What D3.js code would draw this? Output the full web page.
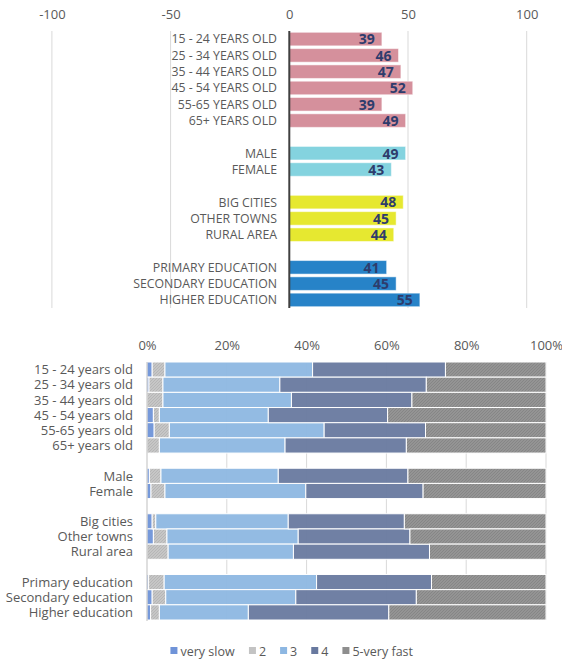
<!DOCTYPE html>
<html>
<head>
<meta charset="utf-8">
<script src="https://cdn.jsdelivr.net/npm/d3@7/dist/d3.min.js"></script>
<style>
  html, body { margin: 0; padding: 0; background: #fff; }
  svg { display: block; font-family: "Open Sans", Lato, sans-serif; }
</style>
</head>
<body>
<svg id="chart" width="562" height="660"></svg>
<script>
// ---- Top chart: score per group ----
const ageGroups = ["15 - 24 YEARS OLD", "25 - 34 YEARS OLD", "35 - 44 YEARS OLD", "45 - 54 YEARS OLD", "55-65 YEARS OLD", "65+ YEARS OLD"];
const ageScores = [39, 46, 47, 52, 39, 49];
const genderGroups = ["MALE", "FEMALE"];
const genderScores = [49, 43];
const placeGroups = ["BIG CITIES", "OTHER TOWNS", "RURAL AREA"];
const placeScores = [48, 45, 44];
const eduGroups = ["PRIMARY EDUCATION", "SECONDARY EDUCATION", "HIGHER EDUCATION"];
const eduScores = [41, 45, 55];
const topTicks = [-100, -50, 0, 50, 100];

// ---- Bottom chart: share of answers per group (%) ----
const bottomGroups = [
  ["15 - 24 years old", "25 - 34 years old", "35 - 44 years old", "45 - 54 years old", "55-65 years old", "65+ years old"],
  ["Male", "Female"],
  ["Big cities", "Other towns", "Rural area"],
  ["Primary education", "Secondary education", "Higher education"]
];
const answerKeys = ["very slow", "2", "3", "4", "5-very fast"];
const verySlow = [1.3, 0.5, 0.0, 1.6, 1.8, 0.0,   0.6, 1.0,   1.3, 1.6, 0.0,   0.4, 1.3, 0.9];
const answer2  = [3.2, 3.5, 4.0, 1.5, 3.8, 3.1,   2.9, 3.5,   0.9, 3.4, 5.3,   3.9, 3.4, 2.2];
const answer3  = [37.0, 29.3, 32.2, 27.3, 38.8, 31.5,   29.4, 35.3,   33.2, 32.9, 31.4,   38.2, 32.6, 22.3];
const answer4  = [33.3, 36.7, 30.2, 29.9, 25.4, 30.4,   32.5, 29.4,   29.1, 28.0, 34.1,   28.8, 30.2, 35.2];
const veryFast = [25.2, 30.0, 33.6, 39.7, 30.2, 35.0,   34.6, 30.8,   35.5, 34.1, 29.2,   28.7, 32.5, 39.4];
const pctTicks = [0, 20, 40, 60, 80, 100];

const svg = d3.select("#chart");
const defs = svg.append("defs");

// Stippled fills for the grey series
function stipple(id, base, dot) {
  const p = defs.append("pattern").attr("id", id).attr("patternUnits", "userSpaceOnUse")
    .attr("width", 3).attr("height", 3);
  p.append("rect").attr("width", 3).attr("height", 3).attr("fill", base);
  p.append("rect").attr("x", 0).attr("y", 0).attr("width", 1).attr("height", 1).attr("fill", dot);
  p.append("rect").attr("x", 2).attr("y", 1).attr("width", 1).attr("height", 1).attr("fill", dot);
  p.append("rect").attr("x", 1).attr("y", 2).attr("width", 1).attr("height", 1).attr("fill", dot);
}
stipple("fill2", "#c3c3c3", "#b2b2b2");
stipple("fill5", "#8e8e8e", "#808080");

const textGrey = "#595959";

// ===================== TOP CHART =====================
const topSections = [
  { names: ageGroups, values: ageScores, color: "#d5909c" },
  { names: genderGroups, values: genderScores, color: "#84d3df" },
  { names: placeGroups, values: placeScores, color: "#e6e830" },
  { names: eduGroups, values: eduScores, color: "#2783c8" }
];
const topRows = [];
topSections.forEach((s, si) => {
  if (si > 0) topRows.push({ key: "gap" + si, gap: true });
  s.names.forEach((n, i) => topRows.push({ key: n, name: n, value: s.values[i], color: s.color }));
});

const xTop = d3.scaleLinear().domain([-100, 100]).range([51.9, 526.7]);
const yTop = d3.scaleBand().domain(topRows.map(r => r.key)).range([31, 308]).paddingInner(0.17).paddingOuter(0.08);

const gTop = svg.append("g");
gTop.selectAll("line.grid").data(topTicks.filter(t => t !== 0)).join("line")
  .attr("class", "grid")
  .attr("x1", d => xTop(d)).attr("x2", d => xTop(d))
  .attr("y1", 31).attr("y2", 308)
  .attr("stroke", "#d9d9d9").attr("stroke-width", 1);

const topAxis = d3.axisTop(xTop).tickValues(topTicks).tickFormat(d => String(d)).tickSize(0).tickPadding(0);
const topAxisG = gTop.append("g").attr("transform", "translate(0,19)").call(topAxis);
topAxisG.select(".domain").remove();
topAxisG.selectAll("text").attr("fill", textGrey).style("font-size", "13px")
  .style("font-family", "'Open Sans', Lato, sans-serif");

const barsTop = topRows.filter(r => !r.gap);
gTop.selectAll("rect.bar").data(barsTop).join("rect")
  .attr("class", "bar")
  .attr("x", xTop(0)).attr("y", d => yTop(d.key))
  .attr("width", d => xTop(d.value) - xTop(0))
  .attr("height", yTop.bandwidth())
  .attr("fill", d => d.color)
  .attr("stroke", "#ffffff").attr("stroke-opacity", 0.5).attr("stroke-width", 1);

gTop.selectAll("text.cat").data(barsTop).join("text")
  .attr("class", "cat")
  .attr("x", 277).attr("y", d => yTop(d.key) + yTop.bandwidth() / 2)
  .attr("dy", "0.36em").attr("text-anchor", "end")
  .attr("fill", textGrey).style("font-size", "12.3px")
  .text(d => d.name);

gTop.selectAll("text.val").data(barsTop).join("text")
  .attr("class", "val")
  .attr("x", d => xTop(d.value) - 7).attr("y", d => yTop(d.key) + yTop.bandwidth() / 2)
  .attr("dy", "0.38em").attr("text-anchor", "end")
  .attr("fill", "#2e3c6c").style("font-size", "14px").style("font-weight", "bold")
  .text(d => d.value);

gTop.append("line")
  .attr("x1", xTop(0)).attr("x2", xTop(0)).attr("y1", 31).attr("y2", 308)
  .attr("stroke", "#404040").attr("stroke-width", 2);

// ===================== BOTTOM CHART =====================
const series = [verySlow, answer2, answer3, answer4, veryFast];
const bottomRows = [];
let idx = 0;
bottomGroups.forEach((names, gi) => {
  if (gi > 0) bottomRows.push({ key: "gap" + gi, gap: true });
  names.forEach(n => {
    const row = { key: n, name: n };
    answerKeys.forEach((k, si) => { row[k] = series[si][idx]; });
    bottomRows.push(row);
    idx++;
  });
});
const dataRows = bottomRows.filter(r => !r.gap);

const xBot = d3.scaleLinear().domain([0, 100]).range([147, 546]);
const yBot = d3.scaleBand().domain(bottomRows.map(r => r.key)).range([362, 620]).paddingInner(0).paddingOuter(0);
const colors = d3.scaleOrdinal().domain(answerKeys)
  .range(["#6f93d8", "url(#fill2)", "#8db7e2", "#68799f", "url(#fill5)"]);
const legendColors = { "very slow": "#6f93d8", "2": "#c3c3c3", "3": "#8db7e2", "4": "#68799f", "5-very fast": "#8e8e8e" };

const gBot = svg.append("g");
gBot.selectAll("line.grid").data(pctTicks.filter(t => t > 0)).join("line")
  .attr("class", "grid")
  .attr("x1", d => xBot(d)).attr("x2", d => xBot(d))
  .attr("y1", 362).attr("y2", 620)
  .attr("stroke", "#d9d9d9").attr("stroke-width", 1);

const botAxis = d3.axisTop(xBot).tickValues(pctTicks).tickFormat(d => d + "%").tickSize(0).tickPadding(0);
const botAxisG = gBot.append("g").attr("transform", "translate(0,350)").call(botAxis);
botAxisG.select(".domain").remove();
botAxisG.selectAll("text").attr("fill", textGrey).style("font-size", "13px")
  .style("font-family", "'Open Sans', Lato, sans-serif");

const stacked = d3.stack().keys(answerKeys)(dataRows);
gBot.selectAll("g.series").data(stacked).join("g")
  .attr("class", "series")
  .attr("fill", d => colors(d.key))
  .selectAll("rect").data(d => d).join("rect")
  .attr("x", d => xBot(d[0])).attr("y", d => yBot(d.data.key))
  .attr("width", d => xBot(d[1]) - xBot(d[0]))
  .attr("height", yBot.bandwidth())
  .attr("fill-opacity", 0.95)
  .attr("stroke", "#ffffff").attr("stroke-width", 1);

gBot.selectAll("text.cat").data(dataRows).join("text")
  .attr("class", "cat")
  .attr("x", 133).attr("y", d => yBot(d.key) + yBot.bandwidth() / 2)
  .attr("dy", "0.36em").attr("text-anchor", "end")
  .attr("fill", textGrey).style("font-size", "13px")
  .text(d => d.name);

gBot.append("line")
  .attr("x1", xBot(0)).attr("x2", xBot(0)).attr("y1", 362).attr("y2", 621)
  .attr("stroke", "#bfbfbf").attr("stroke-width", 1);

// legend
const legend = svg.append("g").attr("transform", "translate(0,651)");
const items = legend.selectAll("g").data(answerKeys).join("g");
items.append("rect").attr("y", -4).attr("width", 7).attr("height", 7)
  .attr("fill", d => legendColors[d]);
items.append("text").attr("x", 10).attr("dy", "0.36em")
  .attr("fill", textGrey).style("font-size", "12.5px").text(d => d);
let cursor = 0;
const pos = [];
items.each(function () {
  pos.push(cursor);
  cursor += this.getBBox().width + 14;
});
const totalW = cursor - 14;
const startX = 292 - totalW / 2;
items.attr("transform", (d, i) => `translate(${startX + pos[i]},0)`);
</script>
</body>
</html>
